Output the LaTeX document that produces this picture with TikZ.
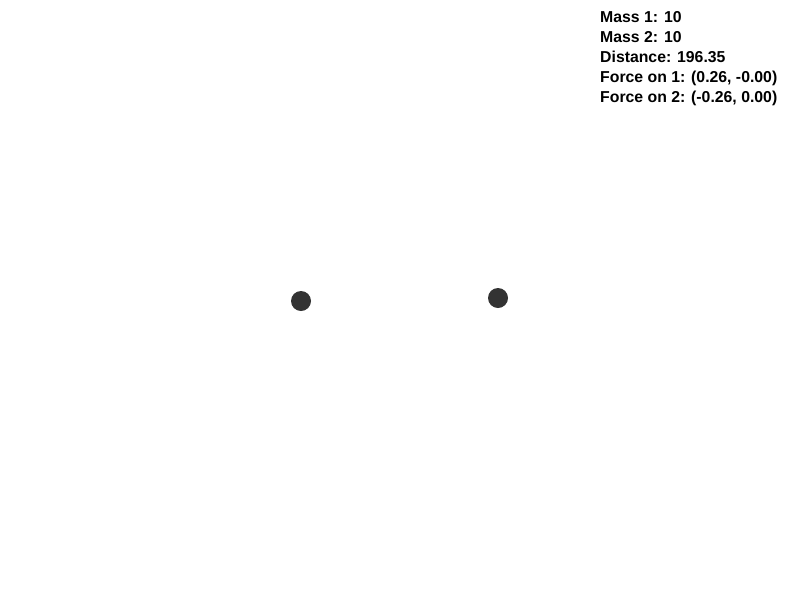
\documentclass[tikz,border=0pt]{standalone}
\usepackage{fontspec}
\setmainfont{Liberation Sans}
\usepackage{tikz}
\usetikzlibrary{positioning}

\begin{document}
\begin{tikzpicture}[
    x=1pt, y=-1pt,
    mass/.style={circle, fill=black!80, inner sep=0pt, minimum size=20pt},
    info/.style={anchor=base west, inner sep=0pt, font=\fontsize{15.8}{20}\selectfont\bfseries}
]
\useasboundingbox (0,0) rectangle (800,600);
\node[mass] (m1) at (301,301) {};
\node[mass] (m2) at (498,298) {};

\node[info] (mass1) at (600,22) {Mass 1: 10};
\node[info] (mass2) at (600,42) {Mass 2: 10};
\node[info] (dist) at (600,62) {Distance: 196.35};
\node[info] (force1) at (600,82) {Force on 1: (0.26, -0.00)};
\node[info] (force2) at (600,102) {Force on 2: (-0.26, 0.00)};
\end{tikzpicture}
\end{document}
